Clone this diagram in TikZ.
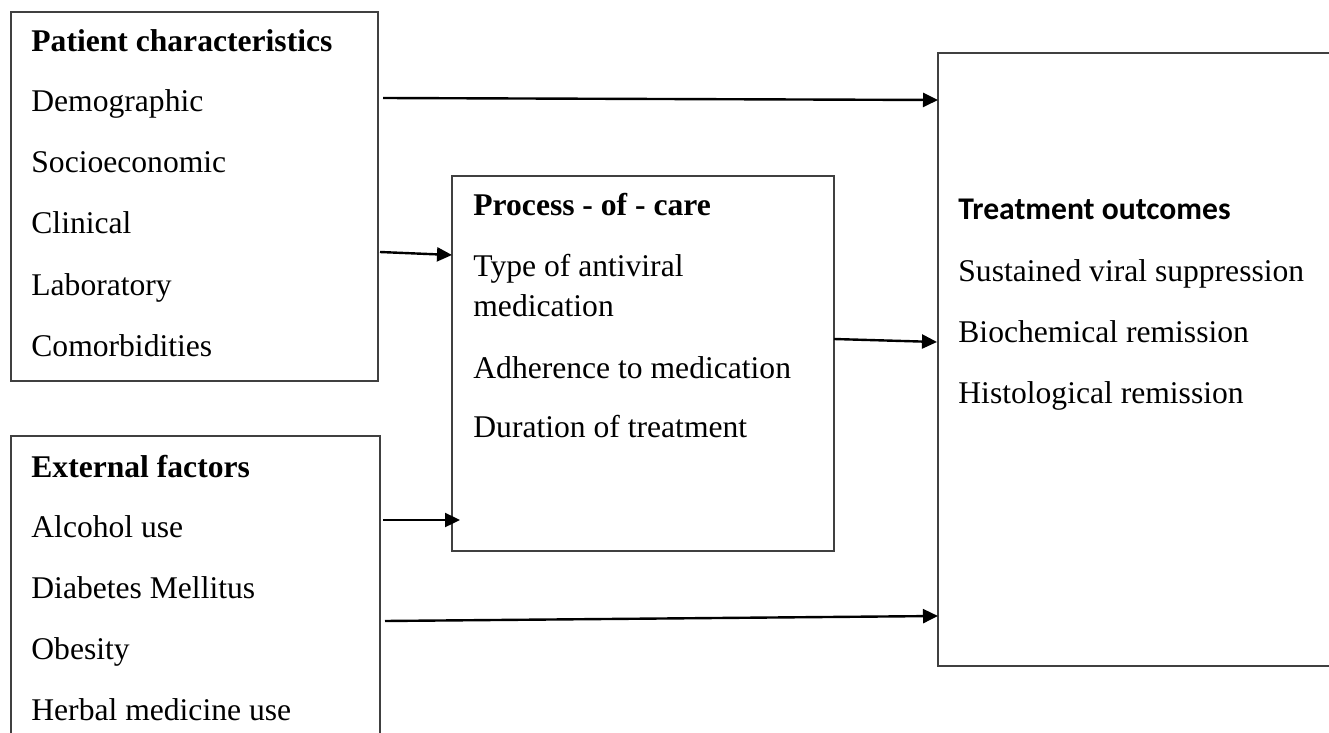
\documentclass[tikz,border=0pt]{standalone}
\usepackage{fontspec}
\setmainfont{Liberation Serif}
\newfontfamily\calibrifont{Carlito}
\usetikzlibrary{arrows.meta,fit,calc}
\tikzset{
  box/.style={draw=black!75, line width=0.55pt, inner sep=0pt, outer sep=0pt},
  txt/.style={anchor=base west, inner sep=0pt, font=\fontsize{15.8}{19}\selectfont},
  head/.style={txt, font=\fontsize{15.8}{19}\selectfont\bfseries},
  arr/.style={line width=1.2pt, -{Triangle[length=7.5pt,width=7pt]}}
}
\begin{document}
\begin{tikzpicture}[x=0.5pt,y=-0.5pt]
\useasboundingbox (0,0) rectangle (1329,733);
\clip (0,0) rectangle (1329,733);
\fill[white] (0,0) rectangle (1329,733);
% boxes
\node[box, fit={(11,12) (378,381)}] (pat) {};
\node[box, fit={(11,436) (380,760)}] (ext) {};
\node[box, fit={(452,176) (834,551)}] (pro) {};
\node[box, fit={(938,53) (1360,666)}] (tre) {};
% patient characteristics
\node[head] (p0) at (31,52) {Patient characteristics};
\node[txt] (p1) at (31,112) {Demographic};
\node[txt] (p2) at (31,173) {Socioeconomic};
\node[txt] (p3) at (31,234) {Clinical};
\node[txt] (p4) at (31,295) {Laboratory};
\node[txt] (p5) at (31,356) {Comorbidities};
% external factors
\node[head] (e0) at (31,477) {External factors};
\node[txt] (e1) at (31,537) {Alcohol use};
\node[txt] (e2) at (31,598) {Diabetes Mellitus};
\node[txt] (e3) at (31,659) {Obesity};
\node[txt] (e4) at (31,720) {Herbal medicine use};
% process of care
\node[head] (c0) at (473,215) {Process - of - care};
\node[txt] (c1) at (473,277) {Type of antiviral};
\node[txt] (c1b) at (473,316) {medication};
\node[txt] (c2) at (473,378) {Adherence to medication};
\node[txt] (c3) at (473,437) {Duration of treatment};
% treatment outcomes
\node[txt, font=\fontsize{15.8}{19}\selectfont\calibrifont\bfseries] (t0) at (958,220) {Treatment outcomes};
\node[txt] (t1) at (958,281) {Sustained viral suppression};
\node[txt] (t2) at (958,342) {Biochemical remission};
\node[txt] (t3) at (958,403) {Histological remission};
% connectors
\draw[arr] ($(pat.north east)+(5,86)$) -- ($(tre.north west)+(0,47)$);
\draw[arr] ($(pat.north east)+(2,240)$) -- ($(pro.north west)+(0,79)$);
\draw[arr] ($(ext.north east)+(3,84)$) -- ($(pro.north west)+(8,344)$);
\draw[arr] ($(ext.north east)+(5,185)$) -- ($(tre.north west)+(0,563)$);
\draw[arr] ($(pro.north east)+(0,163)$) -- ($(tre.north west)+(-1,289)$);
\end{tikzpicture}
\end{document}
